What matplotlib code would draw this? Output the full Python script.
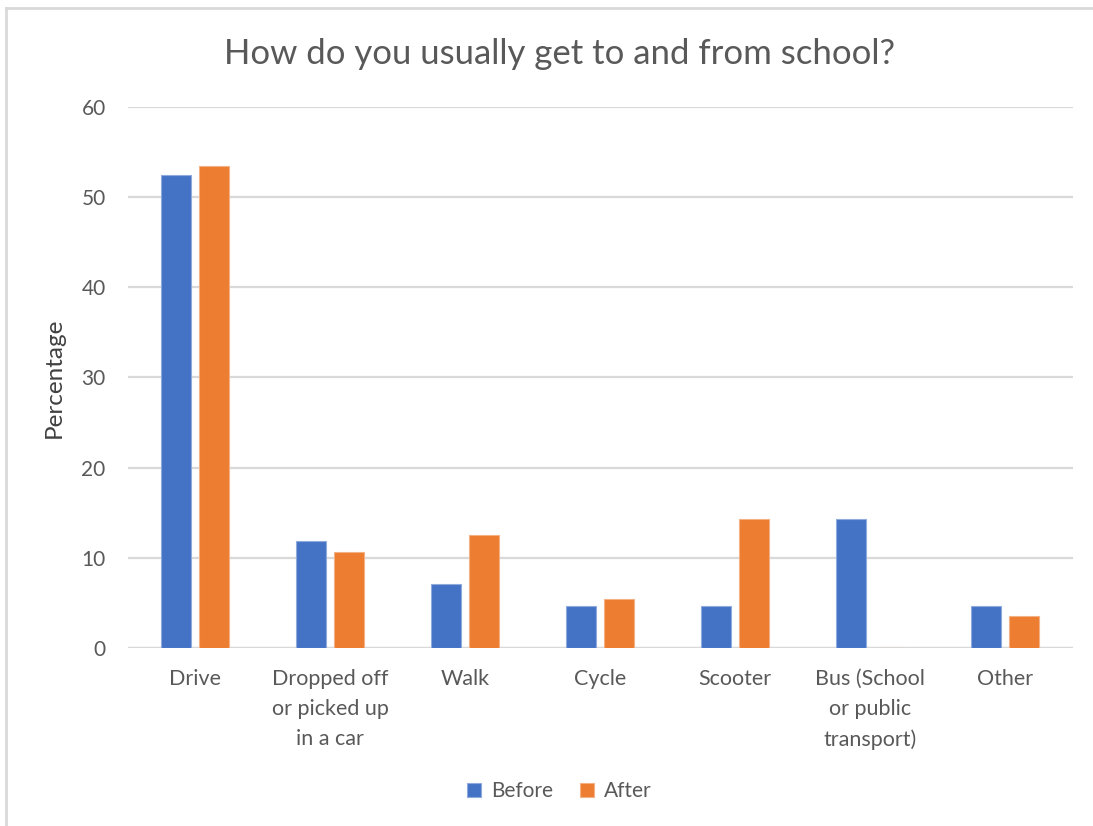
import numpy as np
import matplotlib.pyplot as plt
from matplotlib.lines import Line2D

plt.rcParams['font.family'] = ['Lato', 'DejaVu Sans']

categories = ['Drive', 'Dropped off\nor picked up\nin a car', 'Walk', 'Cycle',
              'Scooter', 'Bus (School\nor public\ntransport)', 'Other']
before = [52.4, 11.9, 7.1, 4.7, 4.7, 14.3, 4.7]
after = [53.5, 10.7, 12.5, 5.4, 14.3, 0, 3.6]
yticks = [0, 10, 20, 30, 40, 50, 60]

blue = '#4472C4'
orange = '#ED7D31'
grey = '#595959'

fig = plt.figure(figsize=(10.93, 8.26), dpi=100)
ax = fig.add_axes([0.117, 0.2155, 0.8645, 0.655])

x = np.arange(len(categories))
w = 0.222
ax.bar(x - 0.141, before, w, color=blue, edgecolor='#8FAADC', linewidth=0.8, label='Before', zorder=3)
ax.bar(x + 0.141, after, w, color=orange, edgecolor='#F4B183', linewidth=0.8, label='After', zorder=3)

ax.set_xlim(-0.5, len(categories) - 0.5)
ax.set_ylim(0, 60)
ax.set_yticks(yticks)
ax.set_yticklabels([str(t) for t in yticks], fontsize=15, color=grey)
ax.set_xticks(x)
ax.set_xticklabels(categories, fontsize=15.5, color=grey, linespacing=1.63, va='top')
ax.tick_params(axis='both', length=0)
ax.tick_params(axis='x', pad=15)
ax.tick_params(axis='y', pad=16)

for sp in ax.spines.values():
    sp.set_visible(False)
ax.grid(axis='y', color='#D9D9D9', linewidth=1.6, zorder=0)
ax.axhline(0, color='#D9D9D9', linewidth=1.6, zorder=1)

ax.set_ylabel('Percentage', fontsize=17.5, color='#404040', labelpad=12)
fig.text(0.512, 0.935, 'How do you usually get to and from school?', fontsize=25,
         color=grey, ha='center', va='center')

leg = fig.legend(loc='center', bbox_to_anchor=(0.512, 0.042), ncol=2, frameon=False,
                 fontsize=15, handlelength=0.65, handleheight=0.65, handletextpad=0.5,
                 columnspacing=1.3, labelcolor=grey)

# outer chart border (top and left visible)
fig.add_artist(Line2D([0.0055, 0.0055], [0.0, 0.99], color='#D9D9D9', linewidth=2))
fig.add_artist(Line2D([0.0055, 1.0], [0.99, 0.99], color='#D9D9D9', linewidth=2))

fig.savefig('out.png', dpi=100)
